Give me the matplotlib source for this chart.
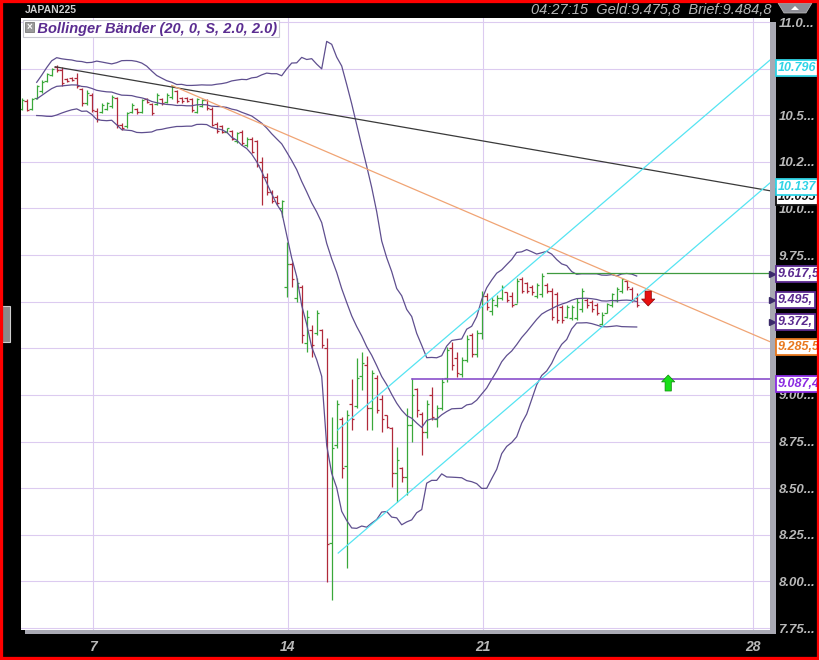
import numpy as np
import pandas as pd
import matplotlib
matplotlib.use('Agg')
import matplotlib.pyplot as plt
from matplotlib.patches import Rectangle, Polygon
import matplotlib.transforms as mtransforms

plt.rcParams['font.family'] = ['Liberation Sans', 'DejaVu Sans']

# JAPAN225 bars (index 0..123), prices in thousands
opens = [10.535, 10.575, 10.535, 10.59, 10.63, 10.685, 10.715, 10.76, 10.745, 10.695,
         10.70, 10.70, 10.64, 10.565, 10.61, 10.525, 10.52, 10.535, 10.55, 10.59,
         10.45, 10.44, 10.515, 10.535, 10.52, 10.585, 10.56, 10.56, 10.585, 10.57,
         10.60, 10.63, 10.59, 10.59, 10.585, 10.52, 10.55, 10.58, 10.535, 10.455,
         10.44, 10.412, 10.415, 10.36, 10.41, 10.34, 10.375, 10.36, 10.25, 10.17,
         10.09, 10.06, 10.0, 9.58, 9.70, 9.52, 9.58, 9.28, 9.35, 9.33,
         9.35, 9.25, 8.206, 8.73, 8.87, 8.62, 8.95, 8.94, 9.10, 9.16,
         8.93, 9.09, 8.98, 8.89, 8.82, 8.58, 8.61, 8.56, 8.84, 9.03,
         8.90, 8.80, 9.00, 8.87, 8.93, 9.09, 9.25, 9.20, 9.11, 9.19,
         9.32, 9.22, 9.33, 9.53, 9.45, 9.48, 9.52, 9.55, 9.53, 9.49,
         9.62, 9.60, 9.58, 9.53, 9.54, 9.59, 9.56, 9.54, 9.47, 9.42,
         9.41, 9.41, 9.46, 9.51, 9.50, 9.48, 9.38, 9.44, 9.48, 9.51,
         9.56, 9.61, 9.57, 9.52]
highs = [10.592, 10.587, 10.592, 10.662, 10.689, 10.727, 10.753, 10.769, 10.759, 10.700,
         10.705, 10.727, 10.646, 10.635, 10.619, 10.539, 10.566, 10.571, 10.609, 10.598,
         10.458, 10.517, 10.566, 10.539, 10.587, 10.592, 10.566, 10.619, 10.592, 10.619,
         10.662, 10.635, 10.598, 10.598, 10.592, 10.592, 10.587, 10.587, 10.544, 10.464,
         10.448, 10.432, 10.421, 10.410, 10.421, 10.383, 10.383, 10.367, 10.276, 10.190,
         10.099, 10.072, 10.045, 9.820, 9.713, 9.627, 9.590, 9.456, 9.375, 9.456,
         9.354, 9.305, 8.882, 8.973, 8.882, 8.919, 9.085, 9.198, 9.230, 9.209,
         9.134, 9.107, 9.000, 8.892, 8.828, 8.721, 8.614, 8.930, 9.091, 9.037,
         8.908, 8.973, 9.043, 8.946, 9.091, 9.257, 9.284, 9.230, 9.203, 9.321,
         9.332, 9.348, 9.557, 9.547, 9.525, 9.536, 9.590, 9.552, 9.552, 9.627,
         9.632, 9.606, 9.590, 9.600, 9.654, 9.600, 9.574, 9.552, 9.482, 9.482,
         9.482, 9.520, 9.574, 9.520, 9.509, 9.493, 9.445, 9.493, 9.547, 9.579,
         9.627, 9.616, 9.579, 9.547]
lows = [10.528, 10.523, 10.528, 10.587, 10.619, 10.678, 10.710, 10.732, 10.657, 10.678,
        10.684, 10.646, 10.550, 10.555, 10.517, 10.464, 10.512, 10.528, 10.539, 10.432,
        10.421, 10.432, 10.512, 10.507, 10.512, 10.566, 10.501, 10.555, 10.555, 10.566,
        10.587, 10.566, 10.566, 10.571, 10.517, 10.512, 10.544, 10.528, 10.442, 10.405,
        10.405, 10.410, 10.367, 10.351, 10.340, 10.330, 10.297, 10.222, 10.019, 10.072,
        10.029, 10.019, 9.954, 9.525, 9.579, 9.498, 9.279, 9.230, 9.203, 9.321,
        9.252, 7.997, 7.900, 8.715, 8.555, 8.072, 8.812, 8.930, 9.027, 8.812,
        8.812, 8.903, 8.801, 8.823, 8.506, 8.426, 8.533, 8.463, 8.748, 8.882,
        8.678, 8.769, 8.866, 8.828, 8.919, 9.069, 9.134, 9.096, 9.096, 9.177,
        9.203, 9.203, 9.300, 9.456, 9.429, 9.472, 9.509, 9.498, 9.472, 9.493,
        9.547, 9.547, 9.536, 9.520, 9.525, 9.547, 9.402, 9.386, 9.386, 9.413,
        9.402, 9.402, 9.445, 9.466, 9.445, 9.429, 9.375, 9.439, 9.472, 9.498,
        9.547, 9.563, 9.498, 9.472]
closes = [10.58, 10.53, 10.585, 10.655, 10.68, 10.72, 10.75, 10.74, 10.675, 10.685,
          10.69, 10.655, 10.565, 10.62, 10.53, 10.48, 10.555, 10.565, 10.60, 10.445,
          10.43, 10.51, 10.555, 10.515, 10.58, 10.57, 10.51, 10.61, 10.565, 10.61,
          10.655, 10.575, 10.575, 10.578, 10.53, 10.585, 10.58, 10.54, 10.45, 10.415,
          10.41, 10.43, 10.375, 10.405, 10.35, 10.375, 10.305, 10.235, 10.17, 10.09,
          10.04, 10.03, 10.04, 9.70, 9.62, 9.60, 9.32, 9.42, 9.27, 9.44,
          9.27, 8.20, 8.715, 8.95, 8.61, 8.89, 8.87, 9.09, 9.17, 8.93,
          9.12, 8.92, 8.87, 8.83, 8.58, 8.65, 8.56, 8.84, 9.00, 8.92,
          8.80, 8.95, 8.88, 8.93, 9.07, 9.24, 9.16, 9.12, 9.19, 9.30,
          9.22, 9.33, 9.53, 9.47, 9.51, 9.52, 9.58, 9.51, 9.48, 9.61,
          9.56, 9.56, 9.55, 9.59, 9.64, 9.56, 9.42, 9.40, 9.40, 9.47,
          9.47, 9.50, 9.56, 9.48, 9.46, 9.44, 9.43, 9.49, 9.54, 9.57,
          9.62, 9.58, 9.51, 9.48]

day_pos = [14.26, 53.26, 92.26, 146.26]
day_labels = ['7', '14', '21', '28']
yticks = [7.75, 8.0, 8.25, 8.5, 8.75, 9.0, 9.25, 9.5, 9.75, 10.0, 10.25, 10.5, 10.75, 11.0]
ytick_labels = ['7.75...', '8.00...', '8.25...', '8.50...', '8.75...', '9.00...', '9.25...',
                '9.50...', '9.75...', '10.0...', '10.2...', '10.5...', '10.7...', '11.0...']

# drawn trend lines: (x0, y0, x1, y1)
X_END = 149.66
black_line = (6.7, 10.76, X_END, 10.095)
orange_line = (30.0, 10.66, X_END, 9.2855)
cyan_upper = (63.2, 8.812, X_END, 10.796)
cyan_lower = (63.3, 8.152, X_END, 10.137)
purple_level = (78.1, 9.0874)
green_level = (105.0, 9.652)

# signal arrows: (bar position, tail price, tip price)
sell_arrow = (125.3, 9.557, 9.477)
buy_arrow = (129.3, 9.021, 9.107)

# price tags at right: text, colour, price where tag sits
tags = [('10.095', '#111111', 10.06),
        ('10.796', '#2fd4e6', 10.753),
        ('10.137', '#2fd4e6', 10.115),
        ('9.617,5', '#5b2a90', 9.649),
        ('9.495,', '#5b2a90', 9.509),
        ('9.372,', '#5b2a90', 9.391),
        ('9.285,5', '#e8781e', 9.257),
        ('9.087,4', '#8a2be2', 9.059)]

o = np.array(opens); h = np.array(highs); l = np.array(lows); c = np.array(closes)
x = np.arange(len(c))

s = pd.Series(c)
mid = s.rolling(20, min_periods=4).mean()
sd = s.rolling(20, min_periods=4).std(ddof=0)
upper = mid + 2 * sd
lower = mid - 2 * sd

W, H = 820, 660
fig = plt.figure(figsize=(8.2, 6.6), dpi=100, facecolor='black')

# plot shadow
fig.patches.append(Rectangle((25 / W, 1 - 634 / H), 751 / W, 612 / H, transform=fig.transFigure,
                             fc='#a9a9b3', ec='none', zorder=-5))

ax = fig.add_axes([21 / W, 1 - 630 / H, 749 / W, 612 / H])
ax.set_zorder(2)
ax.set_facecolor('white')
ax.set_xlim(-0.14, X_END)
ax.set_ylim(7.7393, 11.0215)
for sp in ax.spines.values():
    sp.set_visible(False)

ax.set_yticks(yticks)
ax.set_yticklabels(ytick_labels)
ax.yaxis.tick_right()
ax.tick_params(axis='y', length=0, pad=6, labelcolor='#b9b9b9', labelsize=9.5)
ax.set_xticks(day_pos)
ax.set_xticklabels(day_labels)
ax.tick_params(axis='x', length=0, pad=7, labelcolor='#b9b9b9', labelsize=10)
for t in ax.get_yticklabels():
    t.set_fontweight('bold')
    t.set_fontstyle('italic')
    t.set_ha('left')
for t in ax.get_xticklabels():
    t.set_fontweight('bold')
    t.set_fontstyle('italic')
ax.grid(True, color='#dccbf0', lw=0.8)
ax.set_axisbelow(True)

# bars
cols = np.where(c >= o, '#3aa83a', '#b02a3a')
ax.vlines(x, l, h, colors=cols, lw=0.9, zorder=3)
ax.hlines(o, x - 0.45, x, colors=cols, lw=0.9, zorder=3)
ax.hlines(c, x, x + 0.45, colors=cols, lw=0.9, zorder=3)

# bollinger bands
for band in (upper, mid, lower):
    ax.plot(x, band, color='#5f4f8f', lw=0.9, zorder=4)

# trend lines
ax.plot(black_line[::2], black_line[1::2], color='#3a3a3a', lw=0.9, zorder=4)
ax.plot(orange_line[::2], orange_line[1::2], color='#f0a474', lw=0.9, zorder=4)
ax.plot(cyan_upper[::2], cyan_upper[1::2], color='#55e4f2', lw=0.9, zorder=4)
ax.plot(cyan_lower[::2], cyan_lower[1::2], color='#55e4f2', lw=0.9, zorder=4)
ax.plot([purple_level[0], X_END], [purple_level[1]] * 2, color='#8a4fcc', lw=1.2, zorder=4)
ax.plot([green_level[0], X_END], [green_level[1]] * 2, color='#3f9a3f', lw=0.9, zorder=4)

# signal arrows
arrow_style = 'simple,head_width=0.95,head_length=0.5,tail_width=0.45'
for (xa, y0, y1), fc, ec in ((sell_arrow, '#e81010', '#8a0000'), (buy_arrow, '#18e018', '#0a8a0a')):
    ax.annotate('', xy=(xa, y1), xytext=(xa, y0),
                arrowprops=dict(arrowstyle=arrow_style, mutation_scale=10, shrinkA=0, shrinkB=0,
                                fc=fc, ec=ec, lw=0.5), zorder=5)

# price tags on the right
tr = mtransforms.blended_transform_factory(fig.transFigure, ax.transData)
for txt, col, yv in tags:
    ax.text(778 / W, yv, txt, transform=tr, color=col, fontsize=9, fontweight='bold',
            fontstyle='italic', va='center', ha='left', zorder=10, clip_on=False,
            bbox=dict(boxstyle='square,pad=0.15', fc='white', ec=col, lw=1.3))
for yv in (9.649, 9.509, 9.391):
    ax.plot([X_END + 0.4], [yv], marker='>', ms=4, color='#3b2a6a', clip_on=False, zorder=6)

# indicator label box
ax.text(0.6, 10.965, '   Bollinger Bänder (20, 0, S, 2.0, 2.0)', color='#5b2d91', fontsize=10.5,
        fontweight='bold', fontstyle='italic', va='center', ha='left', zorder=8,
        bbox=dict(boxstyle='square,pad=0.12', fc='white', ec='#c8c8d0', lw=0.8))
ax.add_patch(Rectangle((0.0053, 0.977), 0.012, 0.0165, transform=ax.transAxes,
                       fc='#9a9a9a', ec='#6a6a6a', lw=0.5, zorder=9))
ax.text(0.0113, 0.9855, '×', transform=ax.transAxes, color='white', fontsize=7,
        fontweight='bold', ha='center', va='center', zorder=10)

# header
fig.text(25 / W, 1 - 10 / H, 'JAPAN225', color='#cfcfcf', fontsize=7.5, fontweight='bold',
         va='center', ha='left')
fig.text(772 / W, 1 - 10 / H, '04:27:15  Geld:9.475,8  Brief:9.484,8', color='#b5b5b5',
         fontsize=10.5, fontstyle='italic', va='center', ha='right')
fig.patches.append(Polygon([[778 / W, 1 - 3 / H], [812 / W, 1 - 3 / H], [806 / W, 1 - 13 / H],
                            [784 / W, 1 - 13 / H]], closed=True, transform=fig.transFigure,
                           fc='#8c8c94', ec='#c0c0c0', lw=0.5))
fig.patches.append(Polygon([[791 / W, 1 - 10 / H], [795 / W, 1 - 6 / H], [799 / W, 1 - 10 / H]],
                           closed=True, transform=fig.transFigure, fc='white', ec='none'))

# left tab
fig.patches.append(Rectangle((1 / W, 1 - 342 / H), 9 / W, 36 / H, transform=fig.transFigure,
                             fc='#8a8a8a', ec='#cfcfcf', lw=0.8))

# red frame
fig.patches.append(Rectangle((0, 0), 1, 1, transform=fig.transFigure, fill=False,
                             ec='#ff0000', lw=4.5, zorder=30))

fig.savefig('out.png', dpi=100, facecolor='black')
